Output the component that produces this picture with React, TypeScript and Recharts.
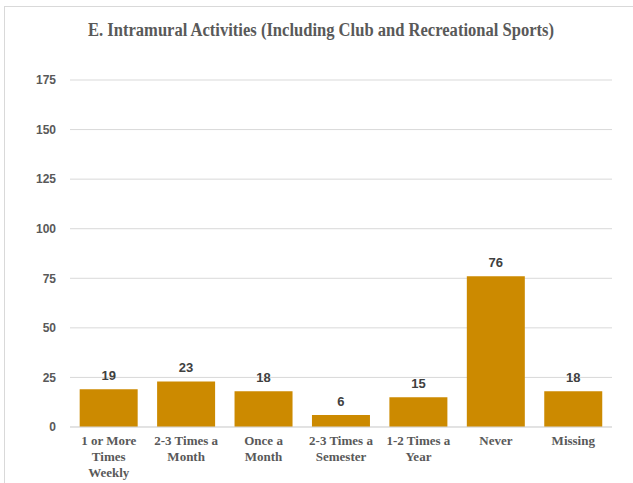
import { BarChart, Bar, XAxis, YAxis, CartesianGrid, LabelList } from 'recharts'

const CATEGORIES = [
  '1 or More\nTimes\nWeekly',
  '2-3 Times a\nMonth',
  'Once a\nMonth',
  '2-3 Times a\nSemester',
  '1-2 Times a\nYear',
  'Never',
  'Missing',
]
const COUNTS = [19, 23, 18, 6, 15, 76, 18]
const Y_TICKS = [0, 25, 50, 75, 100, 125, 150, 175]

const TITLE = 'E. Intramural Activities (Including Club and Recreational Sports)'
const BAR_COLOR = '#CC8A00'
const GRID = '#d9d9d9'

const data = CATEGORIES.map((name, i) => ({ name, value: COUNTS[i] }))

function CategoryTick({ x, y, payload }: any) {
  const lines = String(payload.value).split('\n')
  return (
    <text
      x={x}
      y={y}
      textAnchor="middle"
      fill="#595959"
      fontFamily="'Liberation Serif', 'Times New Roman', serif"
      fontWeight="bold"
      fontSize={13}
    >
      {lines.map((l, i) => (
        <tspan key={i} x={x} dy={i === 0 ? 10 : 16}>{l}</tspan>
      ))}
    </text>
  )
}

export default function App() {
  return (
    <div style={{ position: 'absolute', left: 0, top: 0, width: 633, height: 483, overflow: 'hidden', background: '#fff' }}>
      <div style={{ position: 'absolute', left: 4, top: 6, width: 700, height: 600, border: `1px solid ${GRID}` }} />
      <svg width={633} height={50} style={{ position: 'absolute', left: 0, top: 0 }}>
        <text
          x={321}
          y={36}
          textAnchor="middle"
          textLength={466}
          lengthAdjust="spacingAndGlyphs"
          fill="#595959"
          fontFamily="'Liberation Serif', 'Times New Roman', serif"
          fontWeight="bold"
          fontSize={18}
        >
          {TITLE}
        </text>
      </svg>
      <div style={{ position: 'absolute', left: 0, top: 0 }}>
        <BarChart width={633} height={483} data={data} margin={{ top: 80, right: 21, bottom: 0, left: 0 }} barCategoryGap="12.5%">
          <CartesianGrid vertical={false} stroke={GRID} />
          <XAxis
            dataKey="name"
            height={56}
            axisLine={{ stroke: GRID }}
            tickLine={false}
            interval={0}
            tick={<CategoryTick />}
          />
          <YAxis
            width={70}
            domain={[0, 175]}
            ticks={Y_TICKS}
            axisLine={false}
            tickLine={false}
            tickSize={0}
            tickMargin={14}
            tick={{ fill: '#595959', fontSize: 12, fontWeight: 'bold', fontFamily: "'Liberation Sans', Arial, sans-serif" }}
          />
          <Bar dataKey="value" fill={BAR_COLOR} isAnimationActive={false}>
            <LabelList
              dataKey="value"
              position="top"
              offset={9}
              fill="#404040"
              fontSize={13}
              fontWeight="bold"
              fontFamily="'Liberation Sans', Arial, sans-serif"
            />
          </Bar>
        </BarChart>
      </div>
    </div>
  )
}
